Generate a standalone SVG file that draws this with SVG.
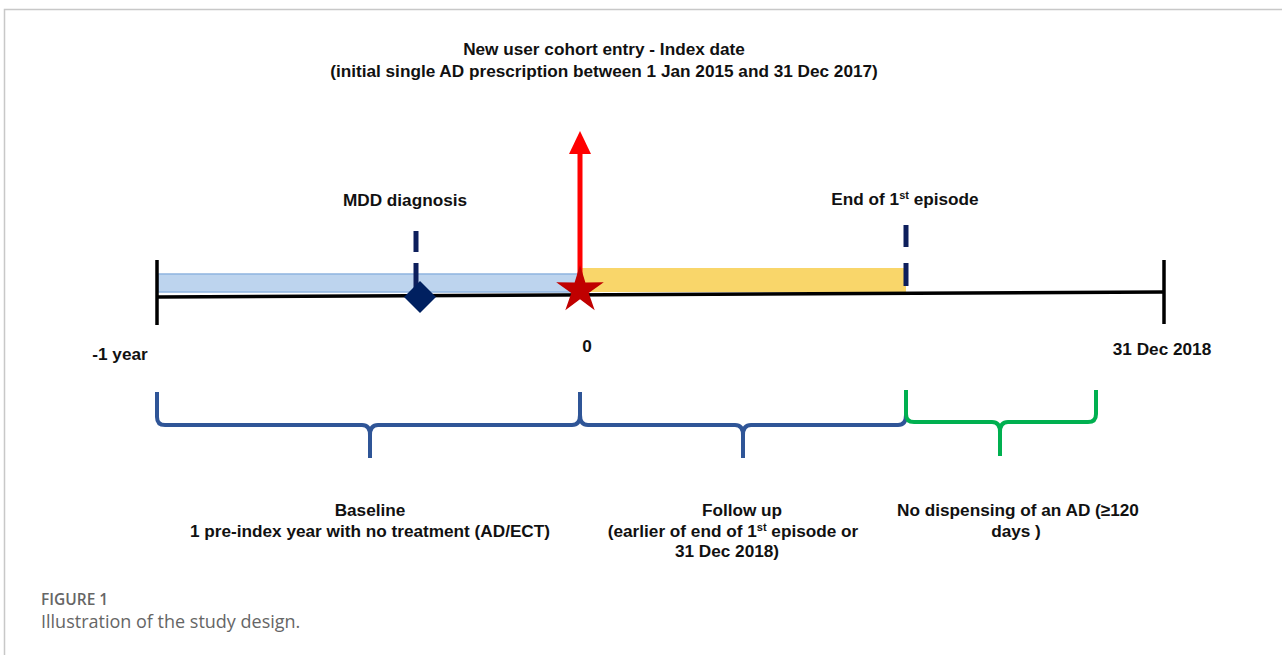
<svg xmlns="http://www.w3.org/2000/svg" width="1282" height="655" viewBox="0 0 1282 655">
<style>
.t{font-family:"Liberation Sans",Arial,sans-serif;font-weight:bold;font-size:17.2px;fill:#111;text-anchor:middle}
.sup{font-size:11px}
.brb{fill:none;stroke:#2f5597;stroke-width:4;stroke-linejoin:round}
.brg{fill:none;stroke:#00b050;stroke-width:4;stroke-linejoin:round}
.dash{stroke:#0d1f5c;stroke-width:5}
.cap{font-family:"Open Sans","Liberation Sans",sans-serif;fill:#666}
</style>
<rect width="1282" height="655" fill="#fff"/>
<path d="M4.5,655 V9.5 H1282" fill="none" stroke="#c8c8c8" stroke-width="1.5"/>

<g id="title">
<text class="t" x="604" y="55">New user cohort entry - Index date</text>
<text class="t" x="604" y="77">(initial single AD prescription between 1 Jan 2015 and 31 Dec 2017)</text>
</g>

<g id="baseline-band"><rect x="158" y="274" width="422" height="18" fill="#bdd4ee" stroke="#8fb4e0" stroke-width="1.5"/></g>
<g id="followup-band"><rect x="580" y="268" width="326" height="24" fill="#f9d66a"/></g>

<g id="timeline">
<line x1="157" y1="297" x2="1164" y2="292" stroke="#000" stroke-width="3.5"/>
<line x1="157" y1="260" x2="157" y2="325" stroke="#000" stroke-width="3.5"/>
<line x1="1164" y1="260" x2="1164" y2="324" stroke="#000" stroke-width="3.5"/>
</g>

<g id="mdd">
<line class="dash" x1="416" y1="231" x2="416" y2="252"/>
<line class="dash" x1="416" y1="263" x2="416" y2="290"/>
<path d="M420,281 L436,297 L420,313 L404,297 Z" fill="#002060"/>
<text class="t" x="405" y="206">MDD diagnosis</text>
</g>

<g id="end-episode">
<line class="dash" x1="906" y1="225" x2="906" y2="247"/>
<line class="dash" x1="906" y1="263" x2="906" y2="286"/>
<text class="t" x="905" y="205">End of 1<tspan class="sup" dy="-6">st</tspan><tspan dy="6"> episode</tspan></text>
</g>

<g id="index-date">
<line x1="580" y1="292" x2="580" y2="152" stroke="#ff0000" stroke-width="5"/>
<path d="M569,154 L580,131 L591,154 Z" fill="#ff0000"/>
<path d="M580,265 L585.4,282.6 L603.8,282.3 L588.7,292.9 L594.7,310.3 L580,299.3 L565.3,310.3 L571.3,292.9 L556.2,282.3 L574.6,282.6 Z" fill="#c00000"/>
</g>

<g id="axis-labels">
<text class="t" x="120" y="360">-1 year</text>
<text class="t" x="587" y="352">0</text>
<text class="t" x="1162" y="355">31 Dec 2018</text>
</g>

<g id="connectors">
<path class="brb" d="M157,392 V417 Q157,425 165,425 H362 Q370,425 370,435 V458 M370,435 Q370,425 378,425 H572 Q580,425 580,415 V392"/>
<path class="brb" d="M580,392 V415 Q580,425 588,425 H735 Q743,425 743,435 V458 M743,435 Q743,425 751,425 H898 Q906,425 906,415 V392"/>
<path class="brg" d="M906,390 V414 Q906,422 914,422 H992 Q1000,422 1000,432 V456 M1000,432 Q1000,422 1008,422 H1088 Q1096,422 1096,414 V390"/>
</g>

<g id="baseline-label">
<text class="t" x="370" y="516">Baseline</text>
<text class="t" x="370" y="537">1 pre-index year with no treatment (AD/ECT)</text>
</g>
<g id="followup-label">
<text class="t" x="742" y="516">Follow up</text>
<text class="t" x="733" y="537">(earlier of end of 1<tspan class="sup" dy="-6">st</tspan><tspan dy="6"> episode or</tspan></text>
<text class="t" x="727" y="557">31 Dec 2018)</text>
</g>
<g id="nodisp-label">
<text class="t" x="1018" y="516">No dispensing of an AD (≥120</text>
<text class="t" x="1016" y="537">days )</text>
</g>

<g id="caption">
<text class="cap" x="41" y="605" font-size="15.5" font-weight="600">FIGURE 1</text>
<text class="cap" x="41" y="628" font-size="18" fill="#777">Illustration of the study design.</text>
</g>
</svg>
